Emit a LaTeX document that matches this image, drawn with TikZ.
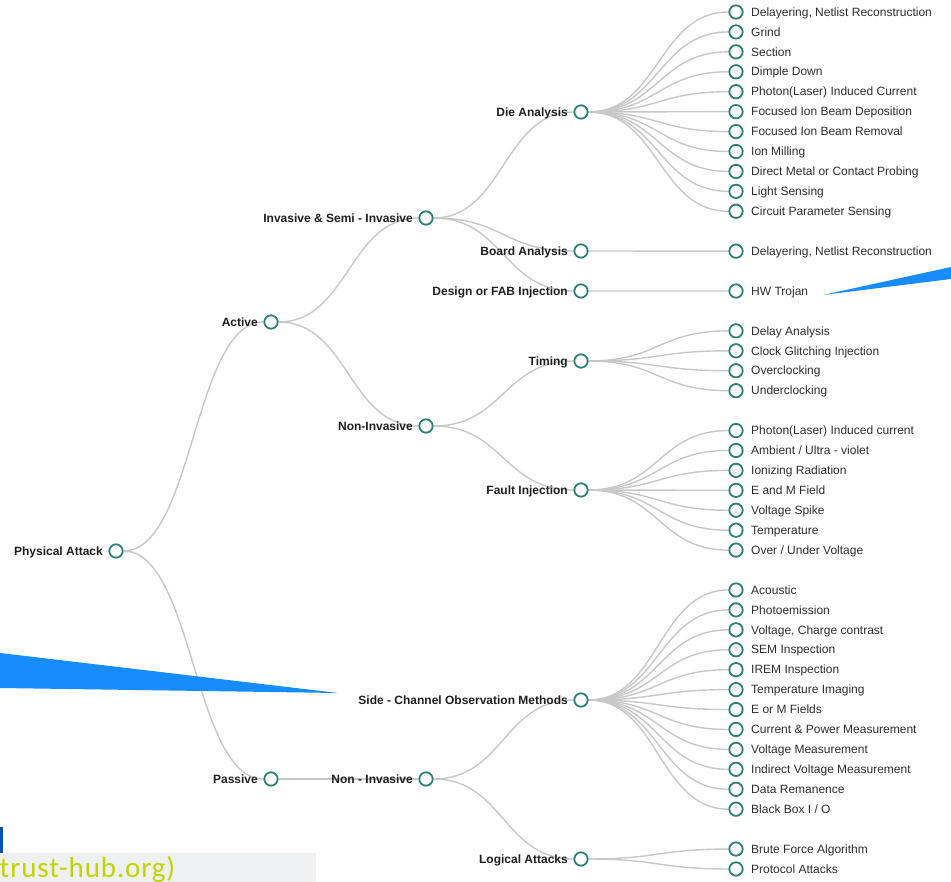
\documentclass[tikz,border=0pt]{standalone}
\usepackage{fontspec}
\setmainfont{Liberation Sans}
\newfontfamily\hubfont[LetterSpace=3]{Carlito}
\usetikzlibrary{calc}

\definecolor{ringteal}{RGB}{47,127,116}
\definecolor{linkgray}{RGB}{200,200,200}
\definecolor{calloutblue}{RGB}{22,140,255}
\definecolor{barblue}{RGB}{12,84,166}
\definecolor{hubgray}{RGB}{239,240,242}
\definecolor{hubgreen}{RGB}{192,212,0}

\pgfdeclarelayer{linklayer}
\pgfsetlayers{linklayer,main}

% horizontal d3-like link between two dots, kept under the labels
\newcommand\treelink[2]{%
  \begin{pgfonlayer}{linklayer}
  \draw[link] let \p1=(#1), \p2=(#2) in
    (#1) .. controls ({(\x1+\x2)/2},\y1) and ({(\x1+\x2)/2},\y2) .. (#2);
  \end{pgfonlayer}}

\begin{document}
\begin{tikzpicture}[x=1pt,y=-1pt,
  dot/.style={circle,draw=ringteal,line width=1.8pt,fill=white,minimum size=13.4pt,inner sep=0pt},
  link/.style={draw=linkgray,line width=1.4pt},
  innertext/.style={font=\bfseries\fontsize{12}{14}\selectfont,text=black!88,anchor=base east,inner sep=0pt},
  leaftext/.style={font=\fontsize{12}{14}\selectfont,text=black!82,anchor=base west,inner sep=0pt}]
\def\lx{736}
\def\ly{12}
\def\dy{19.93}

\useasboundingbox (0,0) rectangle (951,882);

% inner levels
\node[dot] (pa) at (116,551) {};
\node[innertext] (pa-t) at (103,555.2) {Physical Attack};
\node[dot] (act) at (271,322) {};
\node[innertext] (act-t) at (258,326.2) {Active};
\node[dot] (pas) at (271,779) {};
\node[innertext] (pas-t) at (258,783.2) {Passive};

\node[dot] (isi) at (426,218) {};
\node[innertext] (isi-t) at (413,222.2) {Invasive \& Semi - Invasive};
\node[dot] (ni) at (426,426) {};
\node[innertext] (ni-t) at (413,430.2) {Non-Invasive};
\node[dot] (pni) at (426,779) {};
\node[innertext] (pni-t) at (413,783.2) {Non - Invasive};

\node[dot] (da) at (581,112) {};
\node[innertext] (da-t) at (568,116.2) {Die Analysis};
\node[dot] (ba) at (581,251) {};
\node[innertext] (ba-t) at (568,255.2) {Board Analysis};
\node[dot] (df) at (581,291) {};
\node[innertext] (df-t) at (568,295.2) {Design or FAB Injection};
\node[dot] (tm) at (581,361) {};
\node[innertext] (tm-t) at (568,365.2) {Timing};
\node[dot] (fi) at (581,490) {};
\node[innertext] (fi-t) at (568,494.2) {Fault Injection};
\node[dot] (sc) at (581,700) {};
\node[innertext] (sc-t) at (568,704.2) {Side - Channel Observation Methods};
\node[dot] (la) at (581,859) {};
\node[innertext] (la-t) at (568,863.2) {Logical Attacks};

\treelink{pa}{act}
\treelink{pa}{pas}
\treelink{act}{isi}
\treelink{act}{ni}
\treelink{pas}{pni}
\treelink{isi}{da}
\treelink{isi}{ba}
\treelink{isi}{df}
\treelink{ni}{tm}
\treelink{ni}{fi}
\treelink{pni}{sc}
\treelink{pni}{la}

% leaves
\foreach \k/\txt in {0/{Delayering, Netlist Reconstruction},1/Grind,2/Section,3/Dimple Down,
    4/Photon(Laser) Induced Current,5/Focused Ion Beam Deposition,6/Focused Ion Beam Removal,
    7/Ion Milling,8/Direct Metal or Contact Probing,9/Light Sensing,10/Circuit Parameter Sensing} {
  \node[dot] (lf\k) at (\lx,{\ly+\k*\dy}) {};
  \node[leaftext] (lt\k) at (\lx+15,{\ly+\k*\dy+4.2}) {\txt};
  \treelink{da}{lf\k}
}
\foreach \k/\txt in {12/{Delayering, Netlist Reconstruction}} {
  \node[dot] (lf\k) at (\lx,{\ly+\k*\dy}) {};
  \node[leaftext] (lt\k) at (\lx+15,{\ly+\k*\dy+4.2}) {\txt};
  \treelink{ba}{lf\k}
}
\foreach \k/\txt in {14/HW Trojan} {
  \node[dot] (lf\k) at (\lx,{\ly+\k*\dy}) {};
  \node[leaftext] (lt\k) at (\lx+15,{\ly+\k*\dy+4.2}) {\txt};
  \treelink{df}{lf\k}
}
\foreach \k/\txt in {16/Delay Analysis,17/Clock Glitching Injection,18/Overclocking,19/Underclocking} {
  \node[dot] (lf\k) at (\lx,{\ly+\k*\dy}) {};
  \node[leaftext] (lt\k) at (\lx+15,{\ly+\k*\dy+4.2}) {\txt};
  \treelink{tm}{lf\k}
}
\foreach \k/\txt in {21/Photon(Laser) Induced current,22/{Ambient / Ultra - violet},23/Ionizing Radiation,
    24/E and M Field,25/Voltage Spike,26/Temperature,27/{Over / Under Voltage}} {
  \node[dot] (lf\k) at (\lx,{\ly+\k*\dy}) {};
  \node[leaftext] (lt\k) at (\lx+15,{\ly+\k*\dy+4.2}) {\txt};
  \treelink{fi}{lf\k}
}
\foreach \k/\txt in {29/Acoustic,30/Photoemission,31/{Voltage, Charge contrast},32/SEM Inspection,
    33/IREM Inspection,34/Temperature Imaging,35/E or M Fields,36/Current \& Power Measurement,
    37/Voltage Measurement,38/Indirect Voltage Measurement,39/Data Remanence,40/{Black Box I / O}} {
  \node[dot] (lf\k) at (\lx,{\ly+\k*\dy}) {};
  \node[leaftext] (lt\k) at (\lx+15,{\ly+\k*\dy+4.2}) {\txt};
  \treelink{sc}{lf\k}
}
\foreach \k/\txt in {42/Brute Force Algorithm,43/Protocol Attacks} {
  \node[dot] (lf\k) at (\lx,{\ly+\k*\dy}) {};
  \node[leaftext] (lt\k) at (\lx+15,{\ly+\k*\dy+4.2}) {\txt};
  \treelink{la}{lf\k}
}

% callout wedges
\fill[calloutblue] (823,295) -- (951,267) -- (951,279) -- cycle;
\fill[calloutblue] (0,653) -- (338,693) -- (0,688) -- cycle;

% source strip
\fill[barblue] (0,827) rectangle (2.5,853);
\fill[hubgray] (0,853) rectangle (316,882);
\node[font=\hubfont\fontsize{29}{32}\selectfont,text=hubgreen,anchor=base east,inner sep=0pt]
  (src) at (175.5,877.5) {trust-hub.org)};

\end{tikzpicture}
\end{document}
